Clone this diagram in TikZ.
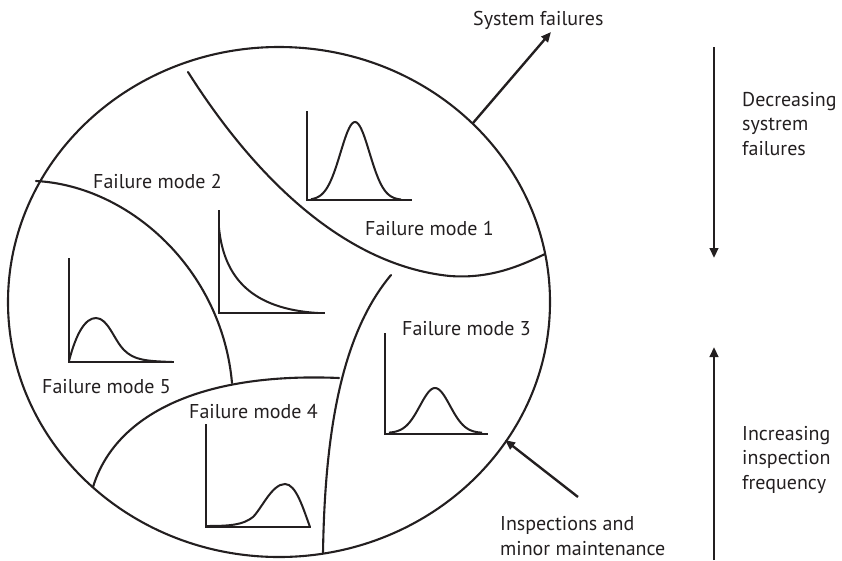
\documentclass[tikz,border=0pt]{standalone}
\usepackage{fontspec}
\setmainfont{PT Sans}
\usetikzlibrary{arrows.meta,shapes.geometric}
\definecolor{ink}{HTML}{231F20}
\begin{document}
\begin{tikzpicture}[x=1pt,y=-1pt,
  ink/.style={draw=ink,line width=2.1pt,line cap=round,line join=round},
  axis/.style={draw=ink,line width=2.2pt},
  curve/.style={draw=ink,line width=2pt},
  pointer/.style={draw=ink,line width=2.4pt,-{Triangle[length=10pt,width=8.5pt]}},
  lbl/.style={inner sep=0pt,anchor=base west,text=ink,font=\fontsize{20}{24.5}\selectfont},
  side/.style={lbl,align=left}]
\useasboundingbox (0,0) rectangle (842,560);

% the system boundary
\node[ellipse,ink,minimum width=542pt,minimum height=510pt,inner sep=0pt] (sys) at (279,302) {};

% boundaries between failure-mode regions
\draw[ink] (188,72) .. controls (250,170) and (340,265) .. (450,276)
  .. controls (490,279) and (520,266) .. (545,254);
\draw[ink] (36,181) .. controls (130,186) and (222,270) .. (232,383);
\draw[ink] (93,487) .. controls (115,415) and (200,372) .. (339,378);
\draw[ink] (391,275) .. controls (345,330) and (325,420) .. (323,553);

% failure mode 1: symmetric bell
\draw[axis] (307,111) -- (307,200) -- (412,200);
\draw[curve] plot[domain=311:401,samples=60,smooth] (\x,{200-78*exp(-((\x-355)/14.5)^2/2)});

% failure mode 2: decaying curve
\draw[axis] (219,210) -- (219,313) -- (325,313);
\draw[curve] (219,228) .. controls (224,278) and (252,309) .. (318,313);

% failure mode 3: bell
\draw[axis] (385,333) -- (385,434) -- (488,434);
\draw[curve] plot[domain=389:482,samples=60,smooth] (\x,{433-45*exp(-((\x-435)/15)^2/2)});

% failure mode 4: late peak
\draw[axis] (206,424) -- (206,527) -- (311,527);
\draw[curve] (206,526) .. controls (230,526) and (243,525) .. (253,517)
  .. controls (262,508) and (272,484) .. (285,484)
  .. controls (296,484) and (303,508) .. (310,527);

% failure mode 5: early peak
\draw[axis] (69,258) -- (69,362) -- (174,362);
\draw[curve] (69,361) .. controls (76,334) and (85,318) .. (96,318)
  .. controls (108,318) and (114,340) .. (124,350)
  .. controls (134,360) and (145,361) .. (172,362);

% labels inside the regions
\node[lbl] (fm1) at (365,235) {Failure mode 1};
\node[lbl] (fm2) at (93,188) {Failure mode 2};
\node[lbl] (fm3) at (402,335) {Failure mode 3};
\node[lbl] (fm4) at (189,418) {Failure mode 4};
\node[lbl] (fm5) at (42,393) {Failure mode 5};

% system failures leaving the boundary
\coordinate (sfout) at (473,123);
\coordinate (sftip) at (551,32);
\draw[pointer] (sfout) -- (sftip);
\node[lbl] (sf) at (473,25) {System failures};

% inspections entering the boundary (base anchor sits on the last line)
\coordinate (inspfrom) at (578,497);
\coordinate (insptip) at (505,440);
\draw[pointer] (inspfrom) -- (insptip);
\node[side] (insp) at (500,555) {Inspections and\\minor maintenance};

% trend arrows on the right
\coordinate (dtop) at (714,47);
\coordinate (dtip) at (714,258);
\draw[pointer] (dtop) -- (dtip);
\node[side] (dec) at (742,155) {Decreasing\\systrem\\failures};

\coordinate (ubot) at (714,560);
\coordinate (utip) at (714,347);
\draw[pointer] (ubot) -- (utip);
\node[side] (inc) at (742,489) {Increasing\\inspection\\frequency};
\end{tikzpicture}
\end{document}
